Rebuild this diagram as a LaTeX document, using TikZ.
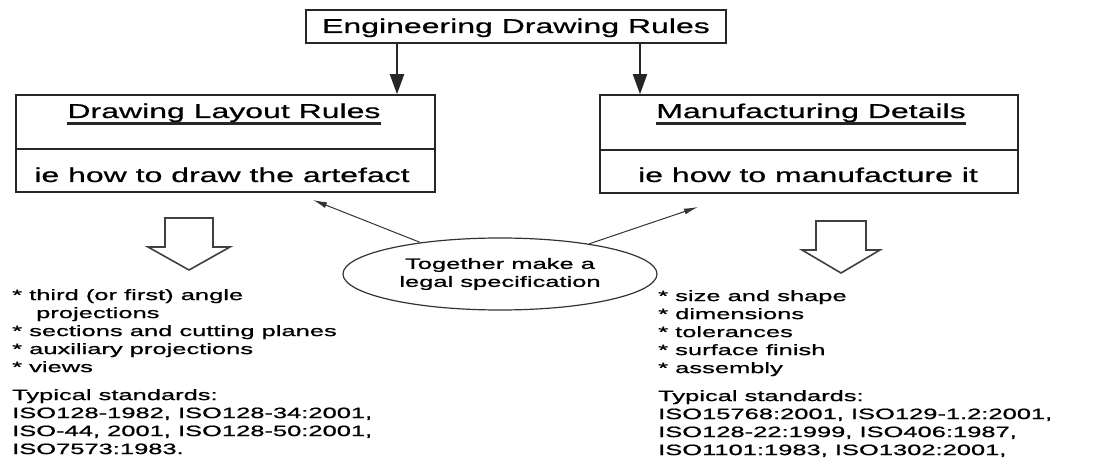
\documentclass[tikz,border=0pt]{standalone}
\usepackage{fontspec}
\setmainfont{Liberation Sans}
\newfontfamily\boxfont[FakeStretch=1.6,FakeBold=0.6]{Liberation Sans}
\newfontfamily\listfont[FakeStretch=1.7,FakeBold=0.9]{Liberation Sans}
\usetikzlibrary{arrows.meta,shapes.geometric}
\tikzset{
  frame/.style={draw=black!85, line width=1.6pt, inner sep=0pt},
  boxtext/.style={font=\boxfont\fontsize{20}{24}\selectfont, inner sep=0pt, anchor=base},
  listtext/.style={font=\listfont\fontsize{15}{18}\selectfont, align=left, inner sep=0pt, anchor=north west},
  bigarr/.style={draw=black!85, line width=2pt, -{Triangle[length=20pt,width=14pt]}},
  thinarr/.style={draw=black!80, line width=1pt, -{Latex[length=14pt,width=6pt]}},
  hollow/.style={draw=black!75, line width=1.6pt, line join=miter, fill=white},
  uline/.style={line width=2.8pt, black!85},
}
\begin{document}
\begin{tikzpicture}[x=1pt,y=-1pt]
\useasboundingbox[fill=white] (0,0) rectangle (1109,468);

% top box
\node[frame, minimum width=420pt, minimum height=33pt] (top) at (516,26.5) {};
\node[boxtext] (toptext) at (516,33) {Engineering Drawing Rules};

% left box
\node[frame, minimum width=419pt, minimum height=97pt] (lbox) at (225.5,143.5) {};
\coordinate (ldiv) at (225,149);
\draw[frame] (lbox.west |- ldiv) -- (lbox.east |- ldiv);
\node[boxtext] (ltitle) at (224,118) {Drawing Layout Rules};
\draw[uline] ([yshift=-5.5pt]ltitle.base west) -- ([yshift=-5.5pt]ltitle.base east);
\node[boxtext] (lsub) at (222,182) {ie how to draw the artefact};

% right box
\node[frame, minimum width=418pt, minimum height=98pt] (rbox) at (809,144) {};
\coordinate (rdiv) at (809,150);
\draw[frame] (rbox.west |- rdiv) -- (rbox.east |- rdiv);
\node[boxtext] (rtitle) at (811,118) {Manufacturing Details};
\draw[uline] ([yshift=-5.5pt]rtitle.base west) -- ([yshift=-5.5pt]rtitle.base east);
\node[boxtext] (rsub) at (808,182) {ie how to manufacture it};

% arrows from top box
\coordinate (la) at (397,0);
\coordinate (ra) at (640,0);
\draw[bigarr] (la |- top.south) -- (la |- lbox.north);
\draw[bigarr] (ra |- top.south) -- (ra |- rbox.north);

% ellipse
\node[draw=black!80, line width=1.2pt, ellipse, minimum width=314pt, minimum height=72pt, inner sep=0pt,
      font=\listfont\fontsize{15}{18}\selectfont, align=center] (ell) at (500,274)
      {Together make a\\legal specification};
\coordinate (ltip) at (313,200);
\coordinate (rtip) at (698,207);
\draw[thinarr] (ell) -- (ltip);
\draw[thinarr] (ell) -- (rtip);

% hollow arrows
\draw[hollow] (165,218) -- (213,218) -- (213,247) -- (230,247) -- (189,270) -- (148,247) -- (165,247) -- cycle;
\draw[hollow] (816,221) -- (866,221) -- (866,250) -- (880,250) -- (841,273) -- (802,250) -- (816,250) -- cycle;

% lists
\node[listtext] (llist) at (12,289) {%
* third (or first) angle\\
\hspace*{1.6em}projections\\
* sections and cutting planes\\
* auxiliary projections\\
* views\\[10pt]
Typical standards:\\
ISO128-1982, ISO128-34:2001,\\
ISO-44, 2001, ISO128-50:2001,\\
ISO7573:1983.};

\node[listtext] (rlist) at (658,290) {%
* size and shape\\
* dimensions\\
* tolerances\\
* surface finish\\
* assembly\\[10pt]
Typical standards:\\
ISO15768:2001, ISO129-1.2:2001,\\
ISO128-22:1999, ISO406:1987,\\
ISO1101:1983, ISO1302:2001,};
\end{tikzpicture}
\end{document}
